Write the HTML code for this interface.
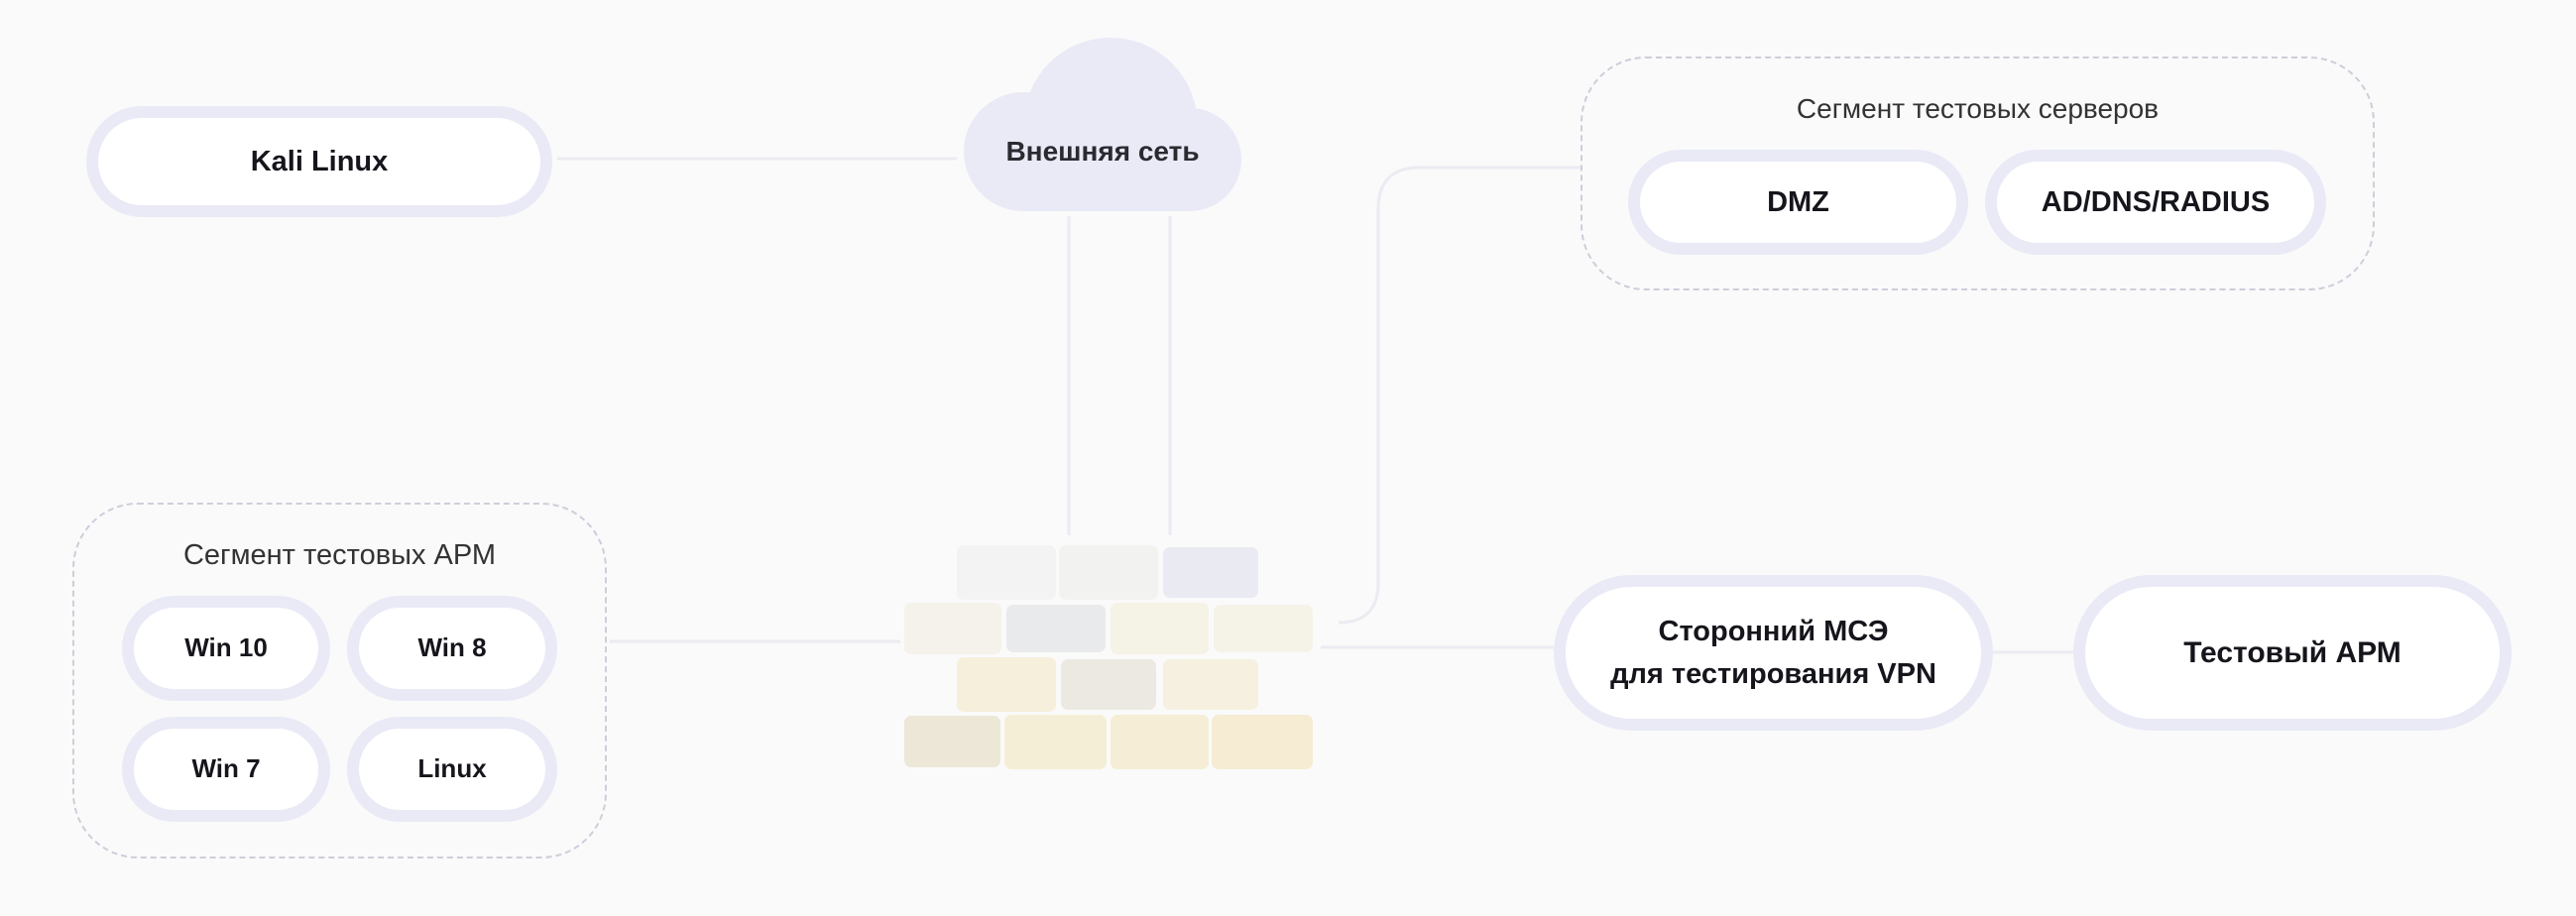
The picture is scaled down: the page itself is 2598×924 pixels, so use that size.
<!DOCTYPE html>
<html><head><meta charset="utf-8"><style>
html,body{margin:0;padding:0;}
body{width:2598px;height:924px;background:#fafafa;position:relative;overflow:hidden;font-family:"Liberation Sans","Noto Sans CJK SC",sans-serif;}
.p{position:absolute;box-sizing:border-box;border:12px solid #e9eaf6;background:#fff;border-radius:999px;display:flex;align-items:center;justify-content:center;text-align:center;font-weight:bold;color:#15151c;font-size:29px;line-height:1.45;}
.seg{position:absolute;box-sizing:border-box;border:2px dashed #cdcedb;border-radius:66px;}
.t{position:absolute;color:#333;font-size:29px;text-align:center;}
.b{position:absolute;border-radius:7px;}
</style></head><body>
<svg width="2598" height="924" style="position:absolute;left:0;top:0">
<g stroke="#ebebf2" stroke-width="3" fill="none">
<line x1="562" y1="160" x2="965" y2="160"/>
<line x1="1078" y1="218" x2="1078" y2="540"/>
<line x1="1180" y1="218" x2="1180" y2="540"/>
<line x1="615" y1="647" x2="908" y2="647"/>
<line x1="1332" y1="653" x2="1567" y2="653"/>
<line x1="2010" y1="658" x2="2091" y2="658"/>
<path d="M1350 628 Q1390 628 1390 588 L1390 211 Q1390 169 1432 169 L1594 169"/>
</g>
<g fill="#e9eaf6">
<circle cx="1120" cy="125.5" r="87.5"/>
<circle cx="1032" cy="153" r="60"/>
<circle cx="1200" cy="161" r="52"/>
<rect x="1032" y="150" width="168" height="63"/>
</g>
<text x="1112" y="162" text-anchor="middle" font-family="Liberation Sans, sans-serif" font-weight="bold" font-size="28" fill="#2a2a30">Внешняя сеть</text>
</svg>

<div class="p" style="left:87px;top:107px;width:470px;height:112px">Kali Linux</div>

<div class="seg" style="left:73px;top:507px;width:539px;height:359px"></div>
<div class="t" style="left:73px;top:544px;width:539px">Сегмент тестовых АРМ</div>
<div class="p" style="left:123px;top:601px;width:210px;height:106px;font-size:26px">Win 10</div>
<div class="p" style="left:350px;top:601px;width:212px;height:106px;font-size:26px">Win 8</div>
<div class="p" style="left:123px;top:723px;width:210px;height:106px;font-size:26px">Win 7</div>
<div class="p" style="left:350px;top:723px;width:212px;height:106px;font-size:26px">Linux</div>

<div class="seg" style="left:1594px;top:57px;width:801px;height:236px"></div>
<div class="t" style="left:1594px;top:94px;width:801px;font-size:28px">Сегмент тестовых серверов</div>
<div class="p" style="left:1642px;top:151px;width:343px;height:106px">DMZ</div>
<div class="p" style="left:2002px;top:151px;width:344px;height:106px">AD/DNS/RADIUS</div>

<div class="p" style="left:1567px;top:580px;width:443px;height:157px">Сторонний МСЭ<br>для тестирования VPN</div>
<div class="p" style="left:2091px;top:580px;width:442px;height:157px;font-size:30px">Тестовый АРМ</div>

<div class="b" style="left:965px;top:550px;width:100px;height:55px;background:#f2f3f2"></div>
<div class="b" style="left:1068px;top:550px;width:100px;height:55px;background:#f2f3f1"></div>
<div class="b" style="left:1173px;top:552px;width:96px;height:51px;background:#e9eaf2"></div>
<div class="b" style="left:912px;top:608px;width:98px;height:52px;background:#f4f2ea"></div>
<div class="b" style="left:1015px;top:610px;width:100px;height:48px;background:#e9eaec"></div>
<div class="b" style="left:1120px;top:608px;width:99px;height:52px;background:#f5f2e6"></div>
<div class="b" style="left:1224px;top:610px;width:100px;height:48px;background:#f5f3e8"></div>
<div class="b" style="left:965px;top:663px;width:100px;height:55px;background:#f5efdc"></div>
<div class="b" style="left:1070px;top:665px;width:96px;height:51px;background:#ebe9e1"></div>
<div class="b" style="left:1173px;top:665px;width:96px;height:51px;background:#f5f0df"></div>
<div class="b" style="left:912px;top:722px;width:97px;height:52px;background:#ede7d8"></div>
<div class="b" style="left:1013px;top:721px;width:103px;height:55px;background:#f5eed7"></div>
<div class="b" style="left:1120px;top:721px;width:99px;height:55px;background:#f5edd6"></div>
<div class="b" style="left:1222px;top:721px;width:102px;height:55px;background:#f5ecd3"></div>
</body></html>
